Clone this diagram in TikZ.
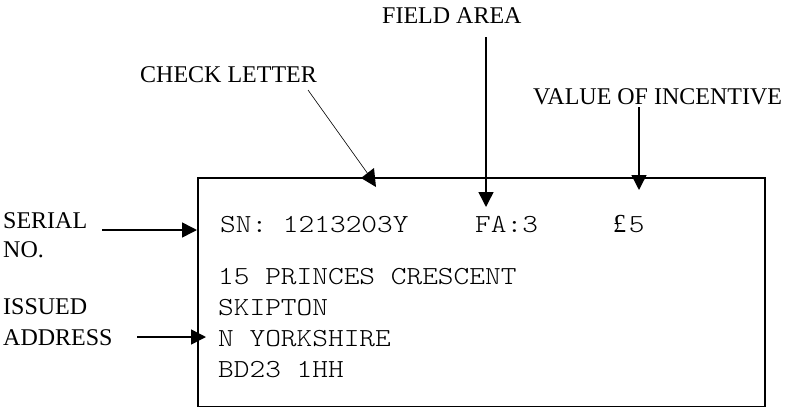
\documentclass[tikz,border=0pt]{standalone}
\usepackage{fontspec}
\setmainfont{Liberation Serif}
\setmonofont{lmmonolt10-regular.otf}[FakeStretch=1.15]
\usetikzlibrary{arrows.meta}
\begin{document}
\begin{tikzpicture}[x=1pt,y=-1pt,
  lbl/.style={inner sep=0pt,anchor=base west,font=\fontsize{24}{29}\selectfont},
  mono/.style={inner sep=0pt,anchor=base west,font=\fontsize{26}{31}\selectfont\ttfamily},
  arr/.style={line width=1.5pt,-{Triangle[length=15pt,width=15pt]}},
  card/.style={draw,line width=1.5pt,inner sep=0pt}]
\useasboundingbox (0,0) rectangle (790,407);
% card
\node[card,minimum width=567pt,minimum height=229pt,anchor=north west] (box) at (197,177) {};
% card text
\node[mono] (sn) at (220,232) {SN: 1213203Y};
\node[mono] (fa) at (475,232) {FA:3};
\node[mono] (val) at (613,232) {\makebox[15.7pt][l]{\rmfamily £}5};
\node[mono] (a1) at (218,284) {15 PRINCES CRESCENT};
\node[mono] (a2) at (218,315) {SKIPTON};
\node[mono] (a3) at (218,346) {N YORKSHIRE};
\node[mono] (a4) at (218,377) {BD23 1HH};
% labels
\node[lbl] (lfa) at (382,23) {FIELD AREA};
\node[lbl] (lcl) at (140,82) {CHECK LETTER};
\node[lbl] (lval) at (533,104) {VALUE OF INCENTIVE};
\node[lbl] (lser1) at (3,228) {SERIAL};
\node[lbl] (lser2) at (3,257) {NO.};
\node[lbl] (liss1) at (3,314) {ISSUED};
\node[lbl] (liss2) at (3,345) {ADDRESS};
% connector end points
\coordinate (faS) at (486,37);
\coordinate (faE) at (486,207);
\coordinate (valS) at (639,107);
\coordinate (valE) at (639,190);
\coordinate (serS) at (102,230);
\coordinate (serE) at (197,230);
\coordinate (issS) at (137,337);
\coordinate (issE) at (206,337);
\coordinate (clS) at (308,90);
\coordinate (clE) at (368,174);
% connectors
\draw[arr] (faS) -- (faE);
\draw[arr] (valS) -- (valE);
\draw[arr] (serS) -- (serE);
\draw[arr] (issS) -- (issE);
\draw[line width=0.6pt] (clS) -- (clE);
\fill (361,178) -- (374,168) -- (376,187) -- cycle;
\end{tikzpicture}
\end{document}
